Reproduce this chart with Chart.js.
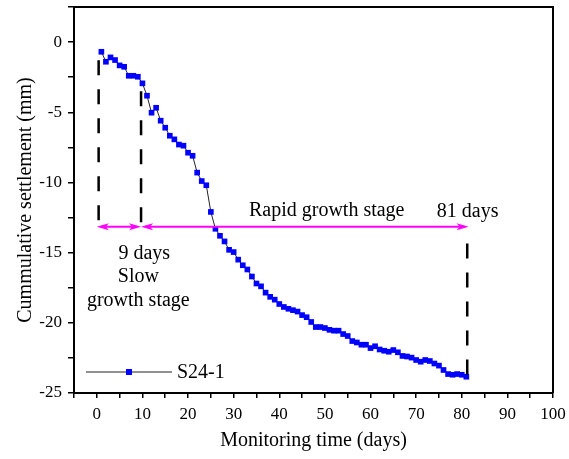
<!DOCTYPE html>
<html><head><meta charset="utf-8">
<script src="https://cdn.jsdelivr.net/npm/chart.js@4.4.0/dist/chart.umd.min.js"></script>
<style>html,body{margin:0;padding:0;background:#fff}#wrap{width:569px;height:459px}</style>
</head><body><div id="wrap"><canvas id="c" width="569" height="459"></canvas></div>
<script>
// ---- data ----
const seriesLabel = 'S24-1';
const days = [1,2,3,4,5,6,7,8,9,10,11,12,13,14,15,16,17,18,19,20,21,22,23,24,25,26,27,28,29,30,
  31,32,33,34,35,36,37,38,39,40,41,42,43,44,45,46,47,48,49,50,51,52,53,54,55,56,57,58,59,60,
  61,62,63,64,65,66,67,68,69,70,71,72,73,74,75,76,77,78,79,80,81];
const settlement = [-0.69,-1.40,-1.09,-1.28,-1.66,-1.76,-2.40,-2.40,-2.47,-2.94,
  -3.82,-5.03,-4.68,-5.60,-6.10,-6.67,-6.93,-7.30,-7.38,-7.88,
  -8.10,-9.30,-9.90,-10.20,-12.10,-13.30,-13.80,-14.20,-14.80,-14.96,
  -15.50,-15.90,-16.20,-16.70,-17.20,-17.40,-17.85,-18.15,-18.35,-18.66,
  -18.87,-19.00,-19.10,-19.20,-19.45,-19.60,-19.94,-20.30,-20.30,-20.37,
  -20.50,-20.56,-20.56,-20.80,-20.94,-21.30,-21.40,-21.56,-21.56,-21.80,
  -21.67,-21.90,-21.99,-22.06,-21.94,-22.10,-22.36,-22.40,-22.48,-22.65,
  -22.77,-22.65,-22.72,-22.90,-23.05,-23.36,-23.65,-23.70,-23.65,-23.70,-23.84];
const xTickLabels = [0,10,20,30,40,50,60,70,80,90,100];
const yTickLabels = [0,-5,-10,-15,-20,-25];
// stage annotation values (days / mm)
const stageDays = [0, 9.7, 81.5];          // arrow segment ends
const dashedLines = [                      // [day, topValue, bottomValue]
  [0.4, -1.3, -13.15],
  [9.7, -3.5, -13.15],
  [81.2, -14.35, -23.85]
];
const arrowLevel = -13.15;
const stageTexts = [
  {text:'9 days', day:10.4, value:-15.1},
  {text:'Slow', day:9.1, value:-16.75},
  {text:'growth stage', day:9.1, value:-18.4},
  {text:'Rapid growth stage', day:50.4, value:-12.0},
  {text:'81 days', day:81.3, value:-12.1}
];

const SERIF = "'Liberation Serif','Times New Roman',serif";
const BLUE = '#0000FF', MAG = '#FF00FF';

function arrowHead(ctx, x, y, dir) {
  const L = 12, W = 3.5;
  ctx.beginPath();
  ctx.moveTo(x, y);
  ctx.lineTo(x - dir * L, y - W);
  ctx.lineTo(x - dir * L * 0.75, y);
  ctx.lineTo(x - dir * L, y + W);
  ctx.closePath();
  ctx.fill();
}

const annot = {
  id: 'annot',
  afterDatasetsDraw(chart) {
    const {ctx, chartArea: a, scales: {x, y}} = chart;
    ctx.save();
    // frame top/right
    ctx.strokeStyle = '#000'; ctx.lineWidth = 2; ctx.setLineDash([]);
    ctx.beginPath();
    ctx.moveTo(a.left, a.top); ctx.lineTo(a.right, a.top); ctx.lineTo(a.right, a.bottom);
    ctx.stroke();
    // dashed lines
    ctx.lineWidth = 2.5; ctx.setLineDash([15, 14]);
    dashedLines.forEach(([d, t, b]) => {
      ctx.beginPath();
      ctx.moveTo(x.getPixelForValue(d), y.getPixelForValue(t));
      ctx.lineTo(x.getPixelForValue(d), y.getPixelForValue(b));
      ctx.stroke();
    });
    ctx.setLineDash([]);
    // arrows
    const ay = y.getPixelForValue(arrowLevel);
    ctx.strokeStyle = MAG; ctx.fillStyle = MAG; ctx.lineWidth = 2;
    for (let i = 0; i < stageDays.length - 1; i++) {
      const x0 = x.getPixelForValue(stageDays[i]), x1 = x.getPixelForValue(stageDays[i + 1]);
      ctx.beginPath(); ctx.moveTo(x0 + 4, ay); ctx.lineTo(x1 - 4, ay); ctx.stroke();
      arrowHead(ctx, x0, ay, -1);
      arrowHead(ctx, x1, ay, 1);
    }
    // texts
    ctx.fillStyle = '#000'; ctx.font = '20px ' + SERIF;
    ctx.textAlign = 'center'; ctx.textBaseline = 'middle';
    stageTexts.forEach(t => ctx.fillText(t.text, x.getPixelForValue(t.day), y.getPixelForValue(t.value)));
    // legend
    const ds = chart.data.datasets[0];
    const ly = a.bottom - 21, lx = a.left + 12;
    ctx.strokeStyle = ds.borderColor; ctx.lineWidth = 1;
    ctx.beginPath(); ctx.moveTo(lx, ly); ctx.lineTo(lx + 86, ly); ctx.stroke();
    ctx.fillStyle = BLUE; ctx.fillRect(lx + 43 - 3, ly - 3, 6, 6);
    ctx.fillStyle = '#000'; ctx.textAlign = 'left';
    ctx.fillText(ds.label, lx + 91, ly + 1);
    ctx.restore();
  }
};

new Chart(document.getElementById('c'), {
  type: 'scatter',
  data: {
    datasets: [{
      label: seriesLabel,
      data: days.map((d, i) => ({x: d, y: settlement[i]})),
      showLine: true,
      borderColor: '#222', borderWidth: 1,
      pointStyle: 'rect', pointRadius: 4, pointBorderWidth: 0,
      pointBackgroundColor: BLUE
    }]
  },
  options: {
    responsive: false, animation: false, devicePixelRatio: 1,
    layout: {padding: {left: 0, top: 7, right: 16, bottom: 0}},
    plugins: {legend: {display: false}, tooltip: {enabled: false}},
    scales: {
      x: {
        type: 'linear', min: -5, max: 100,
        afterFit: s => { s.height = 66; s.paddingLeft = 0; s.paddingRight = 0; },
        afterBuildTicks: s => { const t = []; for (let v = -5; v <= 100; v += 5) t.push({value: v}); s.ticks = t; },
        ticks: {autoSkip: false, maxRotation: 0, padding: 6, color: '#000',
          font: {family: SERIF, size: 17},
          callback: v => xTickLabels.includes(v) ? String(v) : ''},
        grid: {drawOnChartArea: false, tickLength: 5, color: '#000', lineWidth: 1.5},
        border: {color: '#000', width: 2},
        title: {display: true, text: 'Monitoring time (days)', color: '#000',
          font: {family: SERIF, size: 20}, padding: {top: 0, bottom: 6}}
      },
      y: {
        type: 'linear', min: -25, max: 2.5,
        afterFit: s => { s.width = 74; s.paddingTop = 0; s.paddingBottom = 0; },
        afterBuildTicks: s => { const t = []; for (let v = -25; v <= 2.5; v += 2.5) t.push({value: v}); s.ticks = t; },
        ticks: {autoSkip: false, padding: 6, color: '#000',
          font: {family: SERIF, size: 17},
          callback: v => yTickLabels.includes(v) ? String(v) : ''},
        grid: {drawOnChartArea: false, tickLength: 6, color: '#000', lineWidth: 1.5},
        border: {color: '#000', width: 2},
        title: {display: true, text: 'Cummulative settlement (mm)', color: '#000',
          font: {family: SERIF, size: 20}, padding: {top: 14, bottom: 0}}
      }
    }
  },
  plugins: [annot]
});
</script></body></html>
